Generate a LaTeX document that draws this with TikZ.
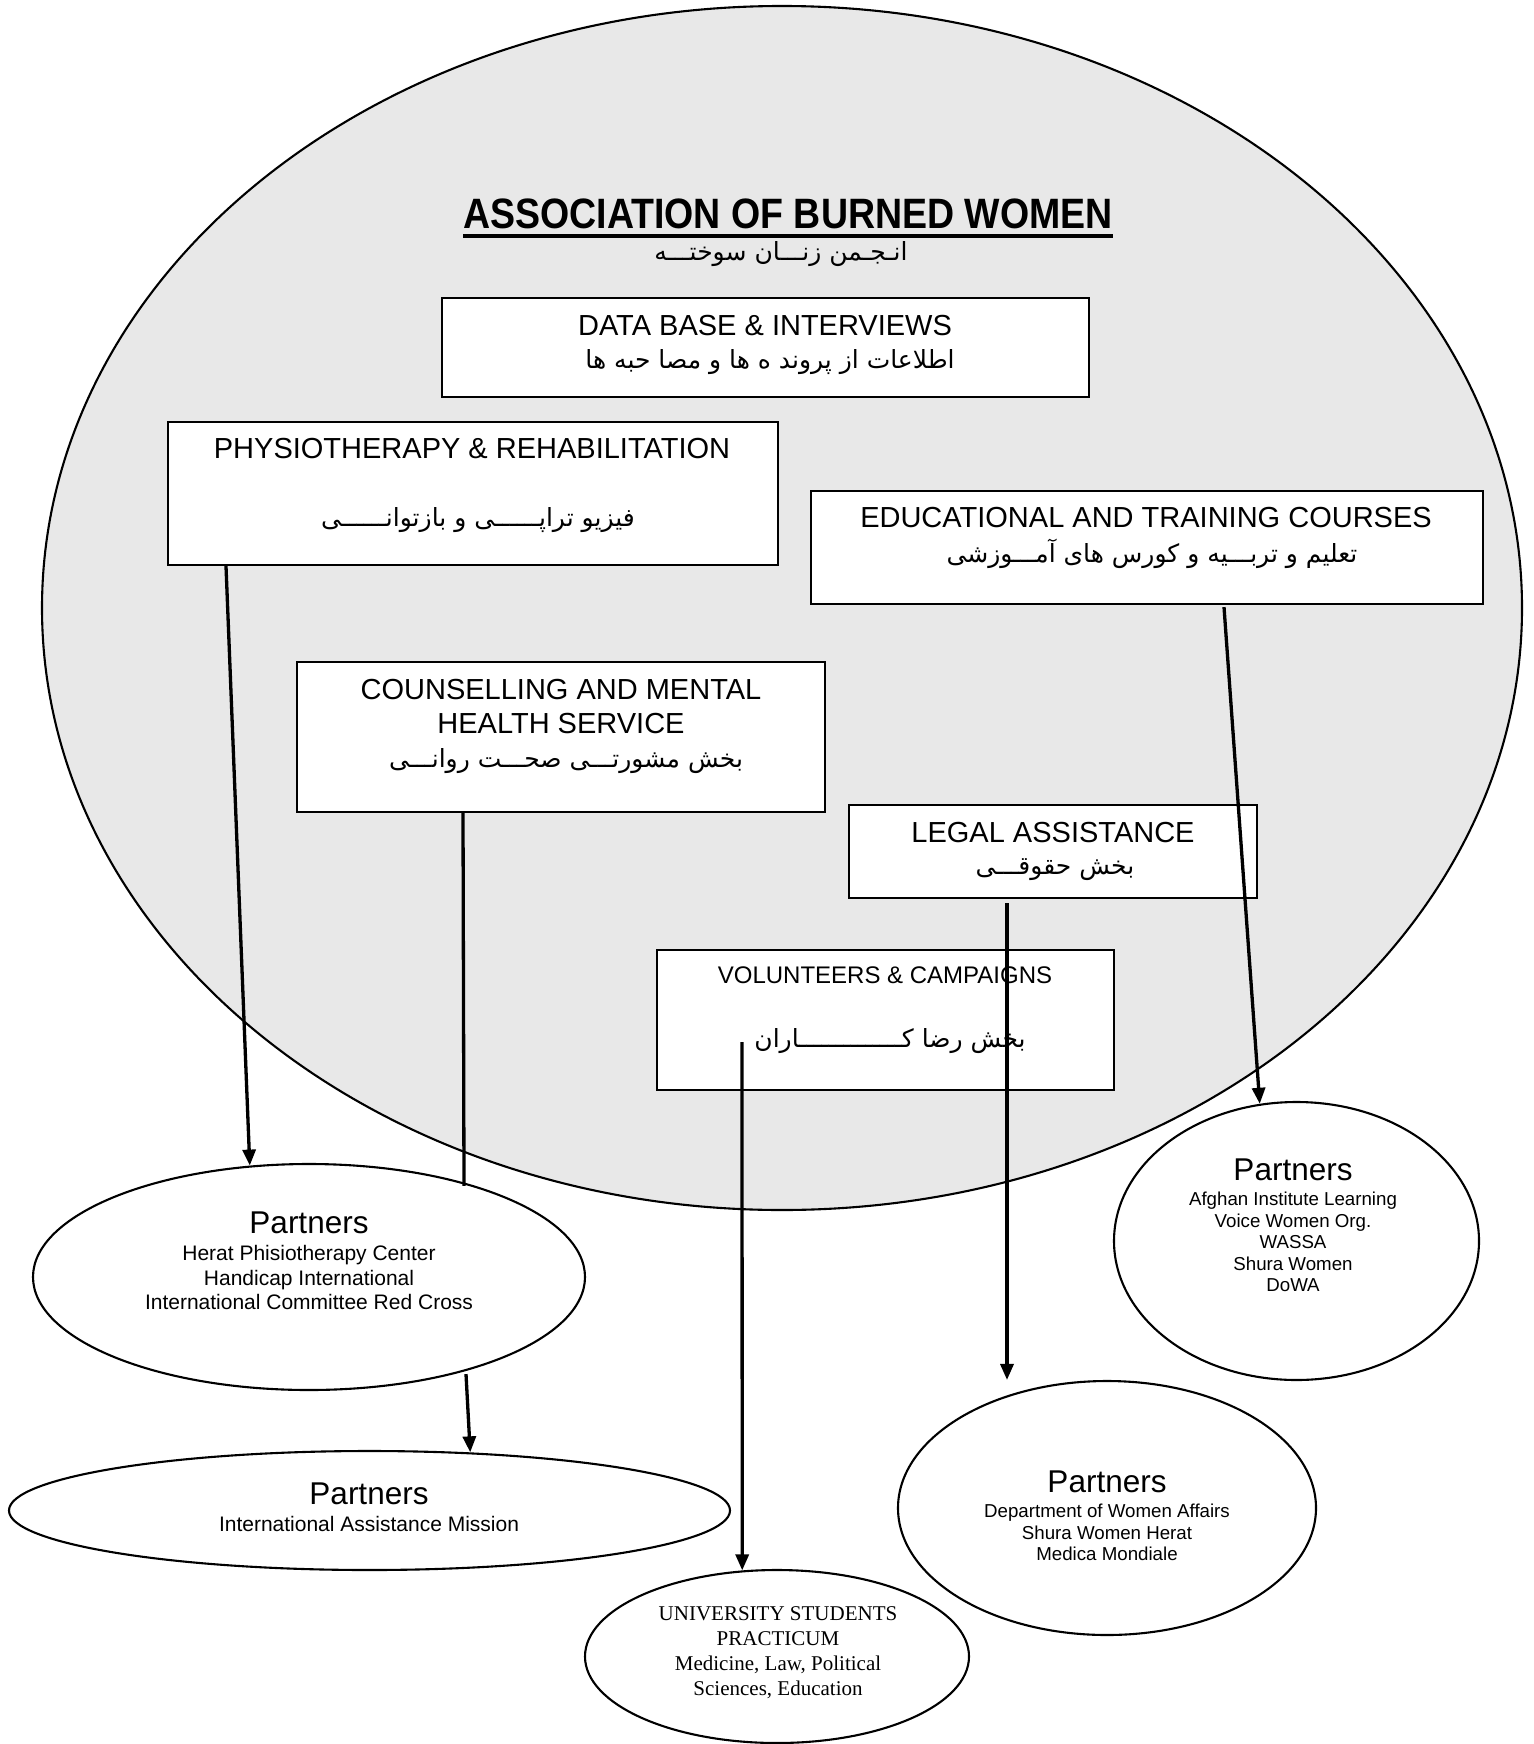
\documentclass[tikz,border=0pt]{standalone}
\usepackage{fontspec}
\usepackage{graphicx}
\setmainfont{Liberation Sans}
\newfontfamily\fa[Script=Arabic]{DejaVu Sans}
\newfontfamily\tnr{Liberation Serif}
\TeXXeTstate=1
\usetikzlibrary{shapes.geometric,arrows.meta}
\definecolor{bggray}{HTML}{E8E8E8}
\tikzset{
  boxn/.style={draw=black, line width=2.2pt, fill=white, rectangle, inner sep=0pt},
  elln/.style={draw=black, line width=2.1pt, fill=white, ellipse, inner sep=0pt},
  txt/.style={inner sep=0pt, align=center},
  entxt/.style={txt, font=\fontsize{29}{34}\selectfont},
  fatxt/.style={txt, font=\fa\fontsize{25}{30}\selectfont},
  ptitle/.style={txt, font=\fontsize{31.5}{36}\selectfont},
  psmall/.style={txt, font=\fontsize{21}{24.5}\selectfont},
  ptiny/.style={txt, font=\fontsize{18.7}{21.5}\selectfont},
  arr/.style={line width=3.3pt, -{Triangle[length=16pt,width=13pt]}},
  plainline/.style={line width=3.3pt}
}
\begin{document}
\begin{tikzpicture}[x=1pt,y=-1pt]
\useasboundingbox (0,0) rectangle (1533,1744);
% main association ellipse
\node[draw=black, line width=2.1pt, fill=bggray, ellipse, inner sep=0pt,
      minimum width=1480pt, minimum height=1204pt] (assoc) at (782,608) {};
% title
\node[txt, font=\bfseries\fontsize{36}{42}\selectfont] (title) at (788,214) {\scalebox{1.042}[1.18]{ASSOCIATION OF BURNED WOMEN}};
\draw[line width=3.4pt] ([yshift=-22pt]title.west) -- ([yshift=-22pt]title.east);
\node[fatxt] (titlefa) at (781,254) {\beginR انـجـمن زنـــان سوختـــه\endR};
% boxes
\node[boxn, minimum width=647pt, minimum height=99pt] (data) at (765.5,347.5) {};
\node[entxt] (datat) at (765,326) {DATA BASE \& INTERVIEWS};
\node[fatxt] (datafa) at (770,362) {\beginR اطلاعات از پروند ه ها و مصا حبه ها\endR};

\node[boxn, minimum width=610pt, minimum height=143pt] (phys) at (473,493.5) {};
\node[entxt] (physt) at (472,449) {PHYSIOTHERAPY \& REHABILITATION};
\node[fatxt] (physfa) at (478,520) {\beginR فیزیو تراپــــــی و بازتوانــــــی\endR};

\node[boxn, minimum width=672pt, minimum height=113pt] (edu) at (1147,547.5) {};
\node[entxt] (edut) at (1146,518) {EDUCATIONAL AND TRAINING COURSES};
\node[fatxt] (edufa) at (1152,554) {\beginR تعلیم و تربـــیه و کورس های آمـــوزشی\endR};

\node[boxn, minimum width=528pt, minimum height=150pt] (coun) at (561,737) {};
\node[entxt] (count) at (561,707) {COUNSELLING AND MENTAL\\HEALTH SERVICE};
\node[fatxt] (counfa) at (566,761) {\beginR بخش مشورتـــی صحـــت روانـــی\endR};

\node[boxn, minimum width=408pt, minimum height=93pt] (legal) at (1053,851.5) {};
\node[entxt] (legalt) at (1053,833) {LEGAL ASSISTANCE};
\node[fatxt] (legalfa) at (1055,870) {\beginR بخش حقوقـــی\endR};

\node[boxn, minimum width=457pt, minimum height=140pt] (vol) at (885.5,1020) {};
\node[txt, font=\fontsize{24}{28}\selectfont] (volt) at (885,975) {VOLUNTEERS \& CAMPAIGNS};
\node[fatxt] (volfa) at (890,1041) {\beginR بخش رضا کــــــــــــــاران\endR};

% partner ellipses
\node[elln, minimum width=552pt, minimum height=226pt] (e1) at (309,1277) {};
\node[ptitle] (e1t) at (309,1223) {Partners};
\node[psmall] (e1l) at (309,1277.5) {Herat Phisiotherapy Center\\Handicap International\\International Committee Red Cross};

\node[elln, minimum width=721pt, minimum height=119pt] (e2) at (369.5,1510.5) {};
\node[ptitle] (e2t) at (369,1494) {Partners};
\node[psmall] (e2l) at (369,1524) {International Assistance Mission};

\node[elln, minimum width=384pt, minimum height=173pt] (e3) at (777,1656.5) {};
\node[txt, font=\tnr\fontsize{21}{24.8}\selectfont] (e3t) at (778,1652.5) {UNIVERSITY STUDENTS\\PRACTICUM\\Medicine, Law, Political\\Sciences, Education};

\node[elln, minimum width=365pt, minimum height=278pt] (e4) at (1296.5,1241) {};
\node[ptitle] (e4t) at (1293,1170) {Partners};
\node[ptiny] (e4l) at (1293,1242) {Afghan Institute Learning\\Voice Women Org.\\WASSA\\Shura Women\\DoWA};

\node[elln, minimum width=418pt, minimum height=254pt] (e5) at (1107,1508) {};
\node[ptitle] (e5t) at (1107,1482) {Partners};
\node[ptiny] (e5l) at (1107,1532.5) {Department of Women Affairs\\Shura Women Herat\\Medica Mondiale};

% connectors
\draw[arr] ([xshift=-247pt]phys.south) -- (e1.118.6);
\draw[plainline] ([xshift=-98pt]coun.south) -- ([xshift=155pt,yshift=-23pt]e1.north);
\draw[arr] ([xshift=157pt,yshift=17pt]e1.south) -- (e2.30.7);
\draw[arr] ([xshift=-143.5pt,yshift=-22pt]vol.center) -- (e3.112.4);
\draw[arr] ([xshift=-46pt,yshift=-4pt]legal.south) -- ([xshift=-100pt]e5.north);
\draw[arr] ([xshift=77pt,yshift=-2pt]edu.south) -- (e4.105.4);
\end{tikzpicture}
\end{document}
